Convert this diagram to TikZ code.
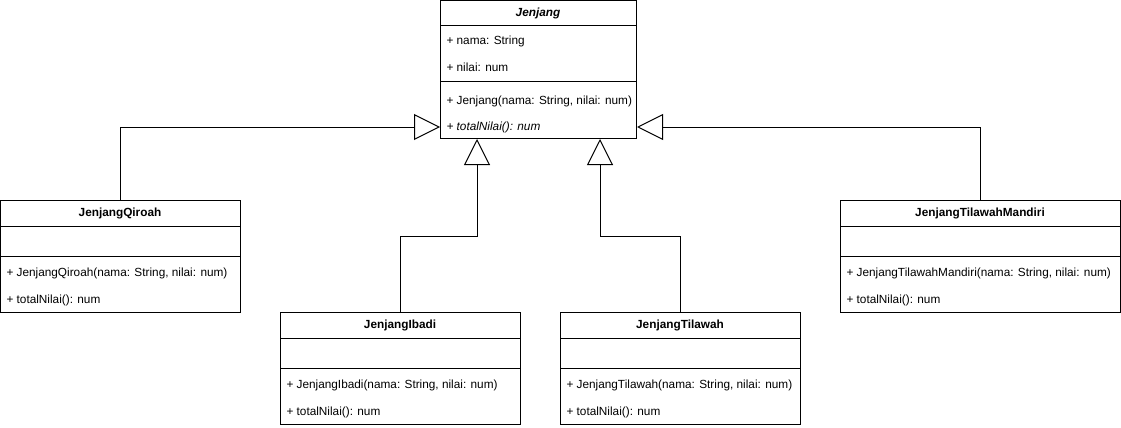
\documentclass[tikz,border=0pt]{standalone}
\usepackage{fontspec}
\setmainfont{Liberation Sans}
\usetikzlibrary{arrows.meta}
\begin{document}
\begin{tikzpicture}[x=1pt,y=-1pt,line width=1pt,
	kotak/.style={draw,fill=white,anchor=north west,minimum height=112pt,inner sep=0pt},
	judul/.style={font=\fontsize{11.8}{14}\selectfont\bfseries,inner sep=0pt},
	isi/.style={font=\fontsize{11.8}{14}\selectfont,anchor=west,inner sep=0pt,yshift=-1.5pt},
	turunan/.style={-{Triangle[open,length=26pt,width=26pt,fill=white]}}]
\useasboundingbox (0,0) rectangle (1121,428);
% kelas induk
\node[kotak,minimum width=196pt,minimum height=138pt] (jenjang) at (440,0) {};
\node[judul] (jenjang-judul) at (538,13) {\itshape Jenjang};
\draw (440,26) -- (636,26);
\node[isi] (jenjang-nama) at (446,40) {+ nama: String};
\node[isi] (jenjang-nilai) at (446,66) {+ nilai: num};
\draw (440,81) -- (636,81);
\node[isi] (jenjang-ktor) at (446,100) {+ Jenjang(nama: String, nilai: num)};
\node[isi] (jenjang-total) at (446,126) {\itshape + totalNilai(): num};
% kelas turunan
\def\kelas#1#2#3#4#5{
	\node[kotak,minimum width=#4pt] (#1) at (#2,#3) {};
	\node[judul] (#1-judul) at (#2+#4/2,#3+13) {#5};
	\draw (#2,#3+26) -- ++(#4,0);
	\draw (#2,#3+56) -- ++(#4,0);
	\node[isi] (#1-ktor) at (#2+6,#3+72) {+ #5(nama: String, nilai: num)};
	\node[isi] (#1-total) at (#2+6,#3+99) {+ totalNilai(): num};
}
\kelas{qiroah}{0}{200}{240}{JenjangQiroah}
\kelas{ibadi}{280}{312}{240}{JenjangIbadi}
\kelas{tilawah}{560}{312}{240}{JenjangTilawah}
\kelas{mandiri}{840}{200}{280}{JenjangTilawahMandiri}
% pewarisan
\draw[turunan] (qiroah.north) |- ([yshift=12pt]jenjang.south west);
\draw[turunan] (mandiri.north) |- ([yshift=12pt]jenjang.south east);
\draw[turunan] (ibadi.north) -- ++(0,-76) -| ([xshift=37pt]jenjang.south west);
\draw[turunan] (tilawah.north) -- ++(0,-76) -| ([xshift=-37pt]jenjang.south east);
\end{tikzpicture}
\end{document}
